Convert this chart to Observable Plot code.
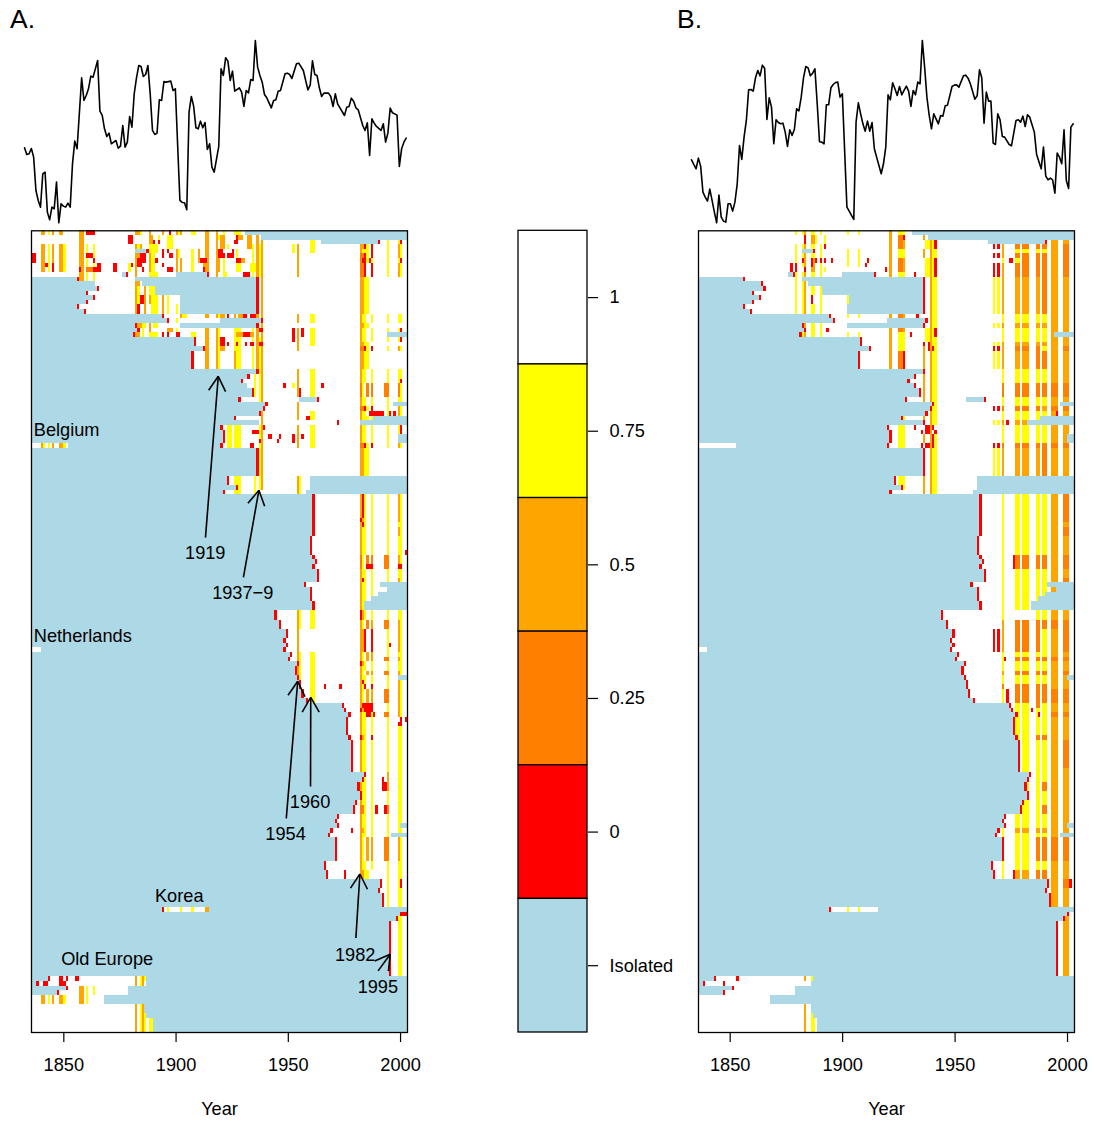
<!DOCTYPE html>
<html><head><meta charset="utf-8">
<script src="https://cdn.jsdelivr.net/npm/d3@7"></script>
<script src="https://cdn.jsdelivr.net/npm/@observablehq/plot@0.6"></script>
<style>
html,body{margin:0;padding:0;background:#fff}
#root{position:relative;width:1094px;height:1131px;overflow:hidden;font-family:"Liberation Sans",Arial,sans-serif;color:#000}
#root svg{position:absolute;top:0;overflow:visible;background:transparent}
.tag{position:absolute;top:1px;font-size:26.5px;line-height:36px}
</style></head><body><div id="root"></div>
<script>
// ---------- data: rows are country indices (0 = top), years are calendar years ----------
const levels = ["1","0.75","0.5","0.25","0","Isolated"];
const levelFill = ["#FFFFFF","#FFFF00","#FFA500","#FF8000","#FF0000","#ADD8E6"];
const tickYears = [1850,1900,1950,2000];

// [year, level] national series, panel A
const seriesA = [[1836,228],[1837,208],[1838,210],[1839,226],[1840,200],[1841,100],[1842,70],[1843,50],[1844,150],[1845,155],[1846,35],[1847,12],[1848,50],[1849,45],[1850,125],[1851,3],[1852,60],[1853,53],[1854,50],[1855,62],[1856,50],[1857,180],[1858,248],[1859,225],[1861,438],[1862,370],[1863,385],[1864,405],[1865,443],[1866,440],[1868,490],[1869,338],[1870,325],[1871,285],[1872,262],[1873,272],[1874,240],[1876,250],[1877,227],[1878,233],[1879,295],[1880,230],[1881,245],[1882,322],[1883,290],[1884,390],[1885,438],[1886,475],[1887,472],[1888,442],[1889,448],[1890,475],[1891,390],[1892,280],[1893,268],[1894,272],[1895,372],[1896,370],[1897,427],[1898,425],[1900,428],[1901,400],[1902,405],[1904,70],[1905,64],[1906,63],[1907,42],[1908,335],[1909,382],[1910,353],[1911,288],[1912,285],[1913,308],[1914,288],[1915,304],[1916,223],[1917,240],[1918,170],[1919,155],[1921,232],[1922,465],[1923,445],[1924,498],[1925,488],[1926,430],[1927,458],[1928,398],[1930,408],[1931,395],[1932,352],[1933,400],[1934,393],[1935,433],[1936,430],[1937,550],[1938,470],[1939,445],[1940,425],[1941,388],[1942,378],[1944,348],[1945,370],[1946,372],[1947,398],[1948,400],[1950,450],[1951,452],[1952,448],[1953,436],[1955,480],[1956,482],[1958,460],[1960,402],[1961,416],[1962,489],[1963,448],[1964,445],[1965,408],[1966,382],[1967,392],[1969,392],[1970,382],[1971,352],[1972,390],[1973,360],[1976,325],[1977,350],[1978,352],[1979,377],[1980,368],[1981,348],[1982,342],[1984,295],[1985,280],[1986,303],[1987,205],[1988,315],[1989,302],[1990,292],[1992,280],[1993,300],[1994,245],[1995,272],[1996,347],[1997,333],[1999,326],[2000,172],[2001,225],[2002,245],[2003,257]];
// [year, level] national series, panel B
const seriesB = [[1836,192],[1837,178],[1838,165],[1839,197],[1840,173],[1841,95],[1842,80],[1843,68],[1844,104],[1845,70],[1846,35],[1847,3],[1848,86],[1849,20],[1850,8],[1851,5],[1852,60],[1853,60],[1854,38],[1855,65],[1856,120],[1857,235],[1858,193],[1859,260],[1860,310],[1861,402],[1862,403],[1863,398],[1864,438],[1865,460],[1866,444],[1867,476],[1868,467],[1869,313],[1870,378],[1871,350],[1872,240],[1873,312],[1874,304],[1875,300],[1876,302],[1877,275],[1878,232],[1879,282],[1880,265],[1881,283],[1882,345],[1883,339],[1884,380],[1885,438],[1886,472],[1887,468],[1888,444],[1889,452],[1890,465],[1891,360],[1892,246],[1893,245],[1894,240],[1895,357],[1896,357],[1897,408],[1898,418],[1899,424],[1900,425],[1901,380],[1902,390],[1904,50],[1905,38],[1906,25],[1907,13],[1908,305],[1909,363],[1910,330],[1911,300],[1912,278],[1913,308],[1914,278],[1915,304],[1916,225],[1917,200],[1919,150],[1920,180],[1921,230],[1922,387],[1923,372],[1924,423],[1925,405],[1926,385],[1927,412],[1928,387],[1929,400],[1930,413],[1931,398],[1932,352],[1933,400],[1934,387],[1935,425],[1936,420],[1937,550],[1938,470],[1939,380],[1940,325],[1941,285],[1942,330],[1943,315],[1944,300],[1945,325],[1946,323],[1947,354],[1948,356],[1950,412],[1951,416],[1952,417],[1953,410],[1955,444],[1956,446],[1957,437],[1958,420],[1960,374],[1961,384],[1962,462],[1963,438],[1964,302],[1965,395],[1966,368],[1967,368],[1968,242],[1969,238],[1970,330],[1971,312],[1972,262],[1973,260],[1975,238],[1976,234],[1978,310],[1979,312],[1980,305],[1981,323],[1982,292],[1983,327],[1984,320],[1986,275],[1987,208],[1989,165],[1990,230],[1991,143],[1992,132],[1993,137],[1994,132],[1995,92],[1996,212],[1997,200],[1998,180],[1999,282],[2000,130],[2001,106],[2002,290],[2003,300]];

// [firstRow, lastRow, year]: isolated until that year, which is a red entry year
const entryA = [[10,10,1856],[12,12,1865],[13,13,1860],[14,14,1863],[15,15,1860],[16,16,1856],[17,17,1859],[18,18,1894],[19,19,1896],[20,20,1882],[21,21,1883],[22,22,1881],[23,24,1908],[25,25,1912],[26,29,1907],[30,30,1936],[31,31,1932],[32,32,1929],[34,35,1934],[36,36,1928],[37,37,1940],[38,38,1939],[39,39,1937],[40,40,1926],[42,42,1920],[43,45,1921],[47,52,1936],[53,54,1923],[55,55,1927],[56,56,1921],[57,65,1961],[66,69,1960],[70,70,1961],[71,71,1962],[72,72,1961],[73,75,1963],[76,76,1957],[77,79,1960],[80,81,1961],[82,83,1944],[84,85,1946],[86,87,1949],[88,88,1948],[89,89,1949],[91,91,1951],[92,92,1950],[93,93,1954],[94,95,1953],[96,96,1954],[97,98,1955],[99,100,1956],[101,101,1958],[102,102,1974],[103,103,1975],[104,104,1977],[105,108,1976],[109,109,1977],[110,116,1978],[117,117,1984],[118,118,1983],[119,120,1981],[121,122,1982],[123,123,1980],[124,125,1979],[126,126,1972],[127,127,1971],[128,128,1972],[129,129,1969],[130,130,1968],[131,135,1971],[136,137,1966],[138,139,1967],[140,141,1991],[142,142,1990],[143,145,1992],[147,147,2000],[148,148,1998],[149,160,1995]];
// [firstRow, lastRow, firstYear, lastYear]
const isoA = [[0,0,1931,2003],[1,1,1938,2003],[2,2,1965,1989],[4,4,1882,1886],[9,9,1876,1877],[9,9,1900,1913],[10,10,1882,1935],[11,11,1885,1935],[12,13,1891,1935],[14,17,1902,1935],[11,11,1835,1863],[19,19,1920,1937],[20,20,1902,1935],[22,22,1994,2003],[33,33,1835,1931],[36,36,1955,1962],[37,37,1997,2003],[40,40,1988,2003],[41,41,1835,1936],[41,41,1982,2003],[44,45,1999,2003],[46,46,1852,1919],[53,55,1960,2003],[56,56,1958,2003],[76,76,1991,2003],[77,77,1994,2003],[78,78,1990,2003],[79,79,1987,2003],[80,81,1984,2003],[90,90,1840,1947],[96,96,1999,2003],[128,128,2000,2003],[130,130,1996,2003],[146,146,1835,1893],[146,146,1915,2003],[161,161,1835,1842],[161,161,1887,2003],[162,162,1835,1837],[162,162,1887,2003],[163,163,1835,1850],[163,163,1879,2003],[164,164,1835,1846],[164,164,1879,2003],[165,166,1868,2003],[167,168,1886,2003],[169,169,1887,2003],[170,172,1890,2003]];
const yellowA = [[0,0,1843,1843],[3,8,1843,1843],[3,8,1850,1850],[3,10,1860,1860],[3,10,1863,1863],[0,0,1884,1884],[0,0,1901,1901],[0,0,1907,1908],[0,3,1921,1921],[0,0,1926,1928],[1,1,1892,1892],[1,3,1896,1898],[1,1,1919,1919],[3,3,1883,1883],[3,4,1888,1891],[3,3,1923,1923],[4,5,1927,1927],[4,5,1901,1901],[4,8,1907,1907],[5,8,1888,1890],[7,8,1927,1928],[7,8,1933,1935],[7,8,1879,1879],[9,9,1888,1891],[9,9,1921,1922],[5,9,1921,1921],[3,9,1934,1934],[3,9,1937,1937],[12,15,1883,1883],[12,13,1888,1890],[14,17,1889,1891],[14,17,1896,1896],[16,17,1900,1900],[19,19,1900,1900],[18,18,1903,1904],[20,20,1885,1886],[20,20,1888,1888],[20,20,1890,1891],[21,22,1885,1885],[21,21,1900,1900],[22,22,1888,1891],[22,22,1901,1901],[22,22,1907,1908],[18,18,1919,1919],[21,29,1919,1919],[21,25,1926,1928],[26,29,1927,1928],[21,29,1934,1934],[23,36,1937,1937],[30,35,1935,1935],[42,46,1926,1928],[42,46,1923,1924],[42,55,1937,1937],[53,56,1926,1928],[53,56,1935,1935],[3,4,1952,1952],[2,4,1960,1961],[18,19,1960,1961],[21,24,1960,1961],[30,33,1960,1961],[33,33,1952,1952],[34,35,1960,1961],[39,40,1960,1961],[42,46,1960,1961],[53,56,1955,1955],[82,85,1955,1955],[91,97,1955,1955],[82,85,1960,1961],[91,101,1960,1961],[161,162,1884,1884],[161,161,1886,1886],[163,166,1860,1860],[163,164,1863,1863],[165,166,1843,1843],[165,166,1850,1850],[167,172,1884,1884],[169,172,1886,1886],[170,172,1888,1889],[146,146,1896,1896],[146,146,1902,1902],[146,146,1907,1907],[46,46,1841,1841],[46,46,1843,1843],[46,46,1850,1850]];
const orangeA = [[0,0,1840,1841],[3,8,1840,1841],[0,0,1845,1845],[3,8,1845,1845],[0,0,1848,1849],[3,8,1848,1849],[0,10,1857,1858],[0,0,1882,1883],[0,0,1888,1888],[0,0,1894,1894],[0,0,1900,1900],[0,0,1902,1902],[1,2,1888,1889],[1,1,1880,1880],[3,3,1882,1882],[3,3,1884,1884],[5,5,1882,1883],[6,9,1882,1882],[5,8,1888,1888],[4,6,1900,1900],[7,8,1900,1900],[6,8,1902,1902],[4,6,1910,1910],[0,9,1913,1914],[0,9,1918,1918],[1,3,1920,1921],[5,8,1919,1919],[6,6,1929,1930],[1,1,1928,1929],[1,3,1932,1933],[1,3,1936,1936],[3,9,1936,1936],[7,8,1912,1913],[10,11,1882,1883],[12,17,1882,1882],[12,17,1886,1886],[14,15,1888,1888],[14,17,1894,1894],[18,18,1902,1902],[18,18,1913,1914],[18,18,1918,1918],[18,18,1920,1921],[18,18,1926,1926],[18,18,1928,1929],[20,20,1883,1884],[20,21,1888,1888],[21,21,1896,1898],[22,22,1882,1883],[21,29,1913,1914],[21,29,1918,1918],[22,22,1927,1929],[22,22,1933,1934],[23,25,1920,1921],[26,29,1926,1926],[18,29,1936,1936],[2,55,1938,1938],[3,9,1954,1954],[18,19,1954,1954],[21,25,1954,1954],[30,35,1954,1954],[37,40,1954,1954],[42,46,1954,1954],[53,56,1954,1954],[82,97,1954,1954],[161,162,1882,1882],[161,162,1885,1885],[163,166,1857,1858],[165,166,1840,1841],[165,166,1845,1845],[165,166,1848,1849],[167,172,1882,1882],[167,172,1885,1885],[146,146,1913,1914],[46,46,1840,1840],[46,46,1845,1845],[46,46,1848,1849]];
const darkA = [[8,8,1860,1862],[33,35,1993,1993],[70,72,1993,1993],[84,85,1993,1993],[92,92,1993,1993],[95,95,1993,1993],[99,101,1993,1993],[104,104,1993,1993],[131,135,1993,1993]];
const redA = [[5,6,1836,1837],[0,0,1860,1862],[0,0,1863,1863],[5,5,1860,1862],[6,6,1863,1863],[7,8,1865,1866],[7,8,1872,1873],[8,8,1863,1864],[7,7,1842,1842],[8,8,1857,1857],[7,8,1845,1845],[0,0,1897,1897],[1,2,1879,1880],[1,1,1927,1927],[2,2,1926,1927],[2,2,1890,1890],[2,2,1892,1892],[4,4,1887,1887],[4,5,1894,1894],[4,4,1896,1896],[5,5,1884,1886],[6,6,1883,1886],[7,7,1883,1884],[8,8,1885,1885],[6,6,1891,1891],[5,5,1897,1898],[8,8,1896,1898],[4,5,1919,1920],[5,5,1923,1925],[4,4,1925,1925],[5,5,1921,1921],[6,6,1911,1913],[8,8,1912,1912],[6,6,1927,1928],[9,9,1930,1932],[9,9,1878,1878],[7,7,1880,1880],[7,7,1894,1894],[9,9,1914,1914],[10,17,1936,1936],[19,19,1938,1938],[20,20,1936,1936],[21,21,1937,1938],[22,22,1894,1894],[22,22,1896,1896],[22,22,1900,1901],[18,18,1923,1923],[18,18,1930,1931],[18,18,1933,1935],[14,15,1884,1885],[16,17,1883,1883],[22,22,1930,1932],[23,24,1920,1921],[24,24,1923,1923],[24,24,1927,1927],[24,24,1931,1931],[24,24,1933,1934],[24,24,1937,1938],[43,43,1934,1936],[42,42,1939,1939],[44,44,1941,1942],[45,45,1937,1937],[45,46,1920,1920],[46,46,1933,1934],[33,33,1948,1948],[33,33,1965,1965],[34,35,1955,1955],[21,23,1952,1952],[21,22,1956,1956],[44,44,1946,1946],[45,45,1945,1945],[44,44,1956,1956],[44,45,1952,1952],[40,40,1958,1959],[41,41,1972,1972],[36,36,1963,1963],[98,98,1966,1966],[98,98,1973,1973],[2,2,1990,1990],[6,6,1986,1986],[39,39,1986,1989],[39,39,1990,1992],[39,39,1995,1995],[39,39,1997,1997],[69,69,2002,2002],[72,72,1986,1986],[102,103,1986,1986],[104,104,1986,1986],[104,104,1988,1988],[105,105,2002,2002],[89,89,1995,1995],[119,120,1992,1993],[118,118,1992,1992],[124,125,1993,1993],[124,125,1989,1989],[129,129,1978,1978],[138,139,1975,1975],[147,147,2001,2002],[90,90,1948,1948],[161,161,1843,1843],[161,161,1848,1849],[161,161,1851,1851],[161,161,1855,1856],[162,162,1838,1838],[162,162,1841,1842],[162,162,1848,1850],[163,163,1851,1851],[164,164,1847,1847],[146,146,1894,1894]];
// recurring columns of panel A and their level per row band (y,o,d,r, - for none)
const columnsA = [[1982,1982],[1983,1983],[1984,1984],[1985,1985],[1987,1987],[1994,1994],[1999,1999],[2000,2000]];
const bandsA = [[2,2,"-----yyr"],[3,3,"ooryryoy"],[4,4,"oyyyryoy"],[5,5,"ddryryoy"],[6,6,"drryyyyr"],[7,9,"ddr-ryoy"],[10,17,"ooyy----"],[18,19,"oyy-yyyy"],[20,20,"ooyy----"],[21,21,"oyy-yyyr"],[22,22,"oyy-yyy-"],[23,23,"oyy-yyyr"],[24,24,"ooyy----"],[25,25,"ddryryoy"],[26,29,"ooyy----"],[30,31,"oyy-yyyy"],[32,32,"oyy-yyyr"],[33,35,"dy-ddddy"],[36,37,"oyy-yyyy"],[38,38,"ddryryoy"],[39,39,"oyy--yoy"],[40,40,"oyyyy---"],[42,43,"oyy-yyyr"],[44,45,"oyy-yyy-"],[46,46,"ddryryoy"],[47,52,"ooyy----"],[57,61,"ory-yyoy"],[62,62,"roy-yyoy"],[63,63,"ory-yyyy"],[64,65,"oyy-yyoy"],[66,69,"oyy-yyyy"],[70,71,"dy-dddoy"],[72,72,"dy-rrdrr"],[73,74,"oyy-yyyy"],[75,75,"ory-yyoy"],[76,81,"oyy-yyyy"],[82,83,"roy-yyyy"],[84,85,"oy-dodoy"],[86,90,"oor-ryoy"],[91,91,"oy-ooyyy"],[92,92,"oy-oodoy"],[93,93,"roy-yyyy"],[94,94,"oyy-yyyy"],[95,95,"oy-oodoy"],[96,96,"oyy-yy--"],[97,97,"ory-yyoy"],[98,98,"oyr-ryoy"],[99,101,"oy-oodoy"],[102,102,"orrrryoy"],[103,103,"rorrryoy"],[104,104,"oyyrydoy"],[105,105,"oyy-yy-r"],[106,106,"oyy-yyrr"],[107,108,"oyy-yyyy"],[109,109,"roy-ryyy"],[110,116,"oyy-yyyy"],[117,120,"oyy-yoyy"],[121,123,"oyy-yyyy"],[124,125,"ddy-ydyy"],[126,128,"oyy-yyyy"],[129,129,"ooy-yyyy"],[130,130,"oyy-yyyy"],[131,135,"oy-oodoy"],[136,137,"oyy-yyyy"],[138,139,"ooyy-yyy"],[140,141,"-----yyr"],[142,145,"-----yyy"],[147,160,"------yy"]];

const entryB = [[10,10,1856],[11,11,1864],[12,12,1865],[13,13,1860],[14,14,1863],[15,15,1860],[16,16,1856],[17,17,1859],[18,18,1894],[19,19,1896],[20,20,1882],[21,21,1883],[22,22,1881],[23,24,1908],[25,25,1912],[26,29,1907],[30,30,1936],[31,31,1932],[32,32,1929],[33,33,1932],[34,35,1934],[36,36,1928],[37,37,1940],[38,38,1939],[39,39,1937],[40,40,1926],[41,41,1936],[42,42,1920],[43,45,1921],[47,52,1936],[53,54,1923],[55,55,1926],[56,56,1921],[57,65,1961],[66,69,1960],[70,70,1961],[71,71,1962],[72,72,1961],[73,75,1963],[76,76,1957],[77,79,1960],[80,81,1961],[82,83,1944],[84,85,1946],[86,87,1949],[88,88,1948],[89,89,1949],[91,91,1951],[92,92,1950],[93,93,1954],[94,95,1953],[96,96,1954],[97,98,1955],[99,100,1956],[101,101,1958],[102,102,1974],[103,103,1975],[104,104,1977],[105,108,1976],[109,109,1977],[110,116,1978],[117,117,1983],[118,118,1982],[119,120,1981],[121,122,1982],[123,123,1980],[124,125,1979],[126,126,1972],[127,127,1971],[128,128,1972],[129,129,1969],[130,130,1968],[131,135,1971],[136,137,1966],[138,139,1967],[140,141,1991],[142,142,1990],[143,145,1992],[147,147,2000],[148,148,1998],[149,160,1995]];
const isoB = [[0,0,1931,2003],[1,1,1938,2003],[2,2,1965,1989],[4,4,1882,1886],[9,9,1876,1877],[9,9,1900,1913],[10,10,1882,1935],[11,11,1885,1935],[12,13,1891,1935],[14,15,1903,1935],[16,17,1902,1935],[19,19,1920,1936],[20,20,1902,1935],[22,22,1994,2003],[36,36,1955,1962],[37,37,1997,2003],[40,40,1988,2003],[41,41,1982,2003],[44,45,2000,2003],[46,46,1853,1919],[53,55,1960,2003],[56,56,1958,2003],[76,76,1991,2003],[77,77,1995,2003],[78,78,1990,2003],[79,79,1987,2003],[80,81,1984,2003],[90,90,1840,1947],[96,96,2000,2003],[128,128,2000,2003],[130,130,1997,2003],[146,146,1835,1893],[146,146,1916,2003],[161,161,1835,1842],[161,161,1887,2003],[162,162,1835,1837],[162,162,1886,2003],[163,163,1835,1850],[163,163,1879,2003],[164,164,1835,1846],[164,164,1879,2003],[165,166,1868,2003],[167,168,1886,2003],[169,169,1887,2003],[170,172,1889,2003]];
const columnsB = [[1971,1971],[1977,1978],[1980,1982],[1986,1987],[1989,1990],[1993,1995],[1998,2000]];
const bandsB = [[2,2,"-----oo"],[3,3,"oddddod"],[4,4,"oyyyyod"],[5,5,"oddddod"],[6,6,"yydddod"],[7,9,"oddddod"],[10,17,"oooodoo"],[18,19,"yyyyyoo"],[20,20,"ooooooo"],[21,23,"yyyyyoo"],[24,24,"ooooooo"],[25,25,"odddyod"],[26,29,"oooddoo"],[30,32,"yyyyyoo"],[33,35,"ddddddd"],[36,37,"yyyyyoo"],[38,38,"ddddodd"],[39,40,"yyyyyoo"],[41,41,"oooyyoo"],[42,45,"yyyyyoo"],[46,46,"ddddddd"],[47,55,"oooodoo"],[57,62,"yyyyyod"],[63,63,"yyyyyoo"],[64,65,"yyyyyod"],[66,69,"yyyyyoo"],[70,72,"yddddod"],[73,74,"yyyyyoo"],[75,75,"yyyyyod"],[76,81,"yyyyyoo"],[82,83,"y--yyoo"],[84,85,"odddddd"],[86,90,"odddyod"],[91,91,"yyyyyoo"],[92,92,"ydddddd"],[93,94,"yyyyyoo"],[95,95,"oddddod"],[96,97,"yyyyyoo"],[98,98,"dddddoo"],[99,101,"ydddddd"],[102,102,"-yydyoo"],[103,103,"-yyyyoo"],[104,104,"-yyyydd"],[105,108,"-yyyyoo"],[109,109,"-yyddoo"],[110,112,"-yyyyod"],[113,115,"-yyyyod"],[116,118,"-yyyyoo"],[119,120,"-yyydoo"],[121,123,"-yyyyoo"],[124,125,"-yyydoo"],[126,128,"-yyyyoo"],[129,129,"yoooooo"],[130,130,"yyyyyoo"],[131,135,"-yydddd"],[136,137,"yyyyyoo"],[138,139,"yooddoo"],[140,141,"-----od"],[142,145,"-----oo"],[147,160,"------o"]];
const yellowB = [[0,0,1879,1879],[3,17,1879,1879],[0,0,1882,1882],[3,5,1882,1882],[7,7,1882,1882],[9,17,1882,1882],[22,22,1882,1882],[0,0,1886,1887],[3,3,1886,1887],[5,5,1886,1887],[9,9,1886,1887],[12,13,1886,1887],[16,17,1886,1887],[20,22,1886,1887],[1,2,1888,1888],[0,0,1890,1890],[3,5,1890,1890],[7,17,1890,1890],[20,22,1890,1890],[1,2,1892,1892],[8,8,1892,1892],[0,0,1902,1902],[4,7,1902,1902],[14,15,1902,1902],[18,18,1902,1902],[22,22,1902,1902],[0,0,1907,1907],[4,7,1907,1907],[18,18,1907,1907],[22,22,1907,1907],[0,0,1925,1927],[4,5,1925,1927],[9,9,1925,1927],[22,25,1925,1927],[42,46,1925,1927],[53,54,1925,1927],[55,55,1927,1927],[40,40,1927,1927],[2,3,1937,1938],[6,9,1937,1938],[21,23,1937,1938],[2,24,1940,1940],[26,41,1940,1940],[47,56,1940,1940],[4,5,1941,1941],[10,20,1941,1941],[23,41,1941,1941],[44,56,1941,1941],[10,17,1967,1967],[10,17,1969,1969],[20,20,1967,1967],[20,20,1969,1969],[24,24,1967,1967],[24,24,1969,1969],[26,29,1967,1967],[26,29,1969,1969],[41,41,1967,1967],[41,41,1969,1969],[47,55,1967,1967],[47,55,1969,1969],[161,161,1886,1886],[169,169,1886,1886],[170,172,1886,1887],[146,146,1902,1902],[146,146,1907,1907]];
const orangeB = [[0,0,1883,1883],[3,3,1883,1883],[5,7,1883,1883],[9,17,1883,1883],[20,22,1883,1883],[1,2,1886,1887],[8,8,1886,1887],[6,7,1887,1887],[0,9,1921,1921],[18,18,1921,1921],[21,29,1921,1921],[53,56,1921,1921],[2,3,1927,1927],[6,8,1927,1927],[18,18,1927,1927],[21,21,1927,1927],[1,1,1936,1936],[4,5,1936,1936],[25,29,1936,1936],[31,40,1936,1936],[44,45,1936,1936],[53,56,1936,1936],[1,56,1939,1939],[161,161,1883,1883],[167,172,1883,1883]];
const darkB = [[1,3,1925,1926],[6,8,1925,1926],[18,18,1925,1926],[21,21,1925,1926],[26,29,1925,1926]];
const redB = [[1,2,1883,1883],[1,1,1927,1927],[3,3,1892,1892],[4,4,1887,1887],[6,6,1882,1882],[6,7,1886,1886],[14,15,1886,1886],[6,6,1888,1888],[6,6,1890,1890],[6,6,1892,1892],[6,6,1895,1895],[6,6,1911,1911],[7,7,1910,1910],[7,8,1877,1877],[7,8,1879,1879],[8,8,1883,1883],[8,8,1919,1919],[9,9,1878,1878],[9,9,1914,1914],[9,9,1932,1932],[10,17,1936,1936],[18,18,1933,1933],[19,19,1937,1937],[20,20,1936,1936],[21,21,1893,1893],[22,22,1930,1930],[2,3,1941,1941],[6,9,1941,1941],[21,22,1941,1941],[24,24,1936,1936],[24,25,1938,1938],[25,25,1940,1940],[26,29,1927,1927],[42,42,1932,1932],[42,43,1937,1938],[42,42,1940,1940],[43,43,1935,1935],[43,43,1941,1941],[44,46,1940,1940],[46,46,1935,1935],[46,46,1937,1938],[46,46,1920,1920],[36,36,1963,1963],[3,3,1967,1967],[3,3,1969,1969],[5,5,1967,1967],[5,5,1969,1969],[7,9,1967,1967],[7,9,1969,1969],[25,25,1967,1967],[25,25,1969,1969],[38,38,1967,1967],[38,38,1969,1969],[46,46,1967,1967],[46,46,1969,1969],[86,90,1967,1967],[86,90,1969,1969],[6,6,1974,1975],[2,2,1990,1990],[39,39,1995,1995],[41,41,1973,1973],[70,72,1976,1976],[92,92,1972,1972],[99,101,1973,1973],[103,103,1984,1984],[104,104,1987,1987],[138,139,1976,1976],[140,141,2001,2001],[90,90,1948,1948],[146,146,1894,1894],[161,161,1843,1843],[161,161,1853,1853],[162,162,1838,1838],[162,162,1847,1847],[163,163,1851,1851],[164,164,1847,1847]];

// [label, tailYear, tailRow, tipYear, tipRow]
const arrowsA = [["1919",1913.1,66.2,1918.8,31.4],["1937\u22129",1930,74.8,1936.9,56],["1954",1949.1,126.8,1954.2,97.2],["1960",1959.9,119.9,1960,100.7],["1982",1980.1,152.6,1981.9,138.8],["1995",1990,159.7,1995.4,156.1]];
const arrowLabelsA = [["1919",1913,69.6],["1937\u22129",1929.7,78.2],["1954",1948.8,130.2],["1960",1959.7,123.3],["1982",1979.8,156.3],["1995",1989.9,163.2]];
const groupLabelsA = [["Belgium",1836.6,43.1],["Netherlands",1836.6,87.5],["Korea",1890.6,143.6],["Old Europe",1848.8,157.2]];

// ---------- drawing ----------
const FONT = '"Liberation Sans",Arial,sans-serif', FS = 18.2, ROWS = 173;
const root = document.getElementById("root");
function place(svg,left){svg.style.left=left+"px";svg.style.top="0px";root.appendChild(svg);}
function tagEl(t,left){const d=document.createElement("div");d.className="tag";d.style.left=left+"px";d.textContent=t;root.appendChild(d);}

function cellMark(cells,fill){
  return Plot.rect(cells,{x1:d=>d[2],x2:d=>d[3]+1,y1:d=>d[0],y2:d=>d[1]+1,fill,clip:true,shapeRendering:"crispEdges"});
}
function bandCells(bands,columns,level){
  const out=[];
  for(const [a,b,codes] of bands){
    columns.forEach((col,i)=>{if(codes[i]===level)out.push([a,b,col[0],col[1]]);});
  }
  return out;
}
function heat({width,domain,iso,entry,yellow,orange,dark,red,bands,columns,extra=[]}){
  const blue = [...iso,...entry.map(([a,b,y])=>[a,b,1835,y-1])];
  const entryRed = entry.map(([a,b,y])=>[a,b,y,y]);
  return Plot.plot({
    width:width+60,height:1131,marginLeft:30,marginRight:30,marginTop:230.3,marginBottom:99,
    x:{domain},y:{domain:[0,ROWS],reverse:true},
    style:{fontFamily:FONT,fontSize:FS+"px",background:"transparent",overflow:"visible"},
    marks:[
      Plot.frame({fill:"#fff"}),
      cellMark([...yellow,...bandCells(bands,columns,"y")],"#FFFF00"),
      cellMark([...orange,...bandCells(bands,columns,"o")],"#FFA500"),
      cellMark([...dark,...bandCells(bands,columns,"d")],"#FF8000"),
      cellMark([...red,...bandCells(bands,columns,"r")],"#FF0000"),
      cellMark(blue,"#ADD8E6"),cellMark(entryRed,"#FF0000"),
      ...extra,
      Plot.frame({stroke:"#000",strokeWidth:1.3}),
      Plot.axisX({ticks:tickYears,tickFormat:"d",tickSize:10,tickPadding:16,fontSize:FS,strokeWidth:1.2,label:"Year",labelAnchor:"center",labelOffset:82,labelArrow:"none",fontVariant:"normal"}),
      Plot.axisY({ticks:[],label:null})
    ]
  });
}
function line(series,width,domain){
  return Plot.plot({
    width,height:232,marginLeft:0,marginRight:0,marginTop:0,marginBottom:0,
    x:{domain,range:[0,width],axis:null},y:{domain:[0,550],range:[223.3,40],axis:null},
    style:{background:"transparent",overflow:"visible"},
    marks:[Plot.line(series,{x:d=>d[0],y:d=>d[1],stroke:"#000",strokeWidth:1.6,strokeLinejoin:"round",clip:false})]
  });
}

// arrows: shaft plus two wings, 17px long at +/-30 degrees
const PXY=2.245, PXR=4.636, WING=17;
function arrowMarks(){
  const segs=[];
  for(const [,x0,r0,x1,r1] of arrowsA){
    segs.push([x0,r0,x1,r1]);
    const ang=Math.atan2((r0-r1)*PXR,(x0-x1)*PXY);
    for(const s of [-1,1]){
      const a=ang+s*Math.PI/6;
      segs.push([x1+WING*Math.cos(a)/PXY,r1+WING*Math.sin(a)/PXR,x1,r1]);
    }
  }
  return [
    Plot.link(segs,{x1:d=>d[0],y1:d=>d[1],x2:d=>d[2],y2:d=>d[3],stroke:"#000",strokeWidth:1.6}),
    Plot.text(arrowLabelsA,{x:d=>d[1],y:d=>d[2],text:d=>d[0],fontSize:FS,fill:"#000",textAnchor:"middle"}),
    Plot.text(groupLabelsA,{x:d=>d[1],y:d=>d[2],text:d=>d[0],fontSize:FS,fill:"#000",textAnchor:"start"})
  ];
}

place(heat({width:376,domain:[1835.6,2003.1],iso:isoA,entry:entryA,yellow:yellowA,orange:orangeA,dark:darkA,red:redA,bands:bandsA,columns:columnsA,extra:arrowMarks()}),1);
place(heat({width:376,domain:[1835.9,2003.1],iso:isoB,entry:entryB,yellow:yellowB,orange:orangeB,dark:darkB,red:redB,bands:bandsB,columns:columnsB}),668);

place(line(seriesA,381.7,[1836,2003]),24.3);
place(line(seriesB,381.7,[1836,2003]),691);

const legend = Plot.plot({
  width:180,height:1131,marginLeft:18,marginRight:93,marginTop:230.3,marginBottom:99,
  x:{axis:null},
  y:{domain:levels,padding:0,round:false,axis:null},
  style:{fontFamily:FONT,fontSize:FS+"px",background:"transparent",overflow:"visible"},
  marks:[
    Plot.cell(levels.map((l,i)=>({l,f:levelFill[i]})),{y:"l",fill:d=>d.f,stroke:"#000",strokeWidth:1.3}),
    Plot.axisY({anchor:"right",tickSize:10,tickPadding:12,fontSize:FS,label:null,strokeWidth:1.2})
  ]
});
place(legend,500);

tagEl("A.",10); tagEl("B.",677);
</script></body></html>
